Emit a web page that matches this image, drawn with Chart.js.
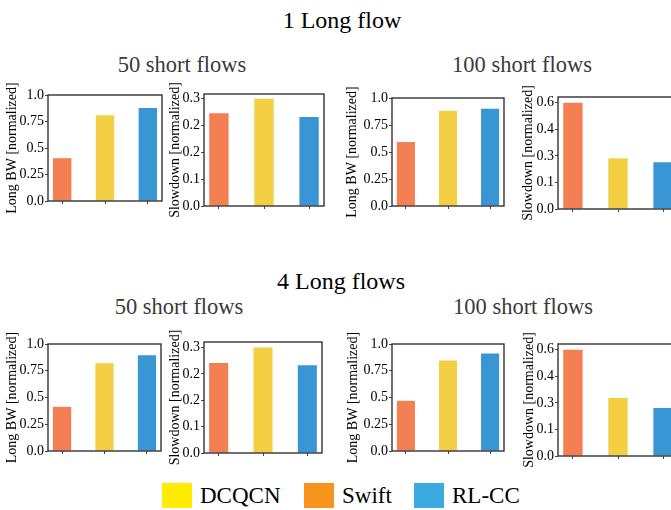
<!DOCTYPE html>
<html>
<head>
<meta charset="utf-8">
<script src="https://cdn.jsdelivr.net/npm/chart.js@4.4.0/dist/chart.umd.min.js"></script>
<style>
  html, body { margin:0; padding:0; background:#fff; }
  body { width:671px; height:510px; overflow:hidden; position:relative; font-family:'Liberation Serif', serif; }
  canvas { position:absolute; }
  .t { position:absolute; line-height:1; white-space:nowrap; transform:translateX(-50%); color:#000; font-family:'Liberation Serif', serif; }
  .sub { color:#3a3a3a; }
  .sw { position:absolute; }
  .lt { position:absolute; line-height:1; font-size:23px; white-space:nowrap; font-family:'Liberation Serif', serif; }
</style>
</head>
<body>
<div class="t" style="left:342px; top:8px; font-size:24px;">1 Long flow</div>
<div class="t sub" style="left:182px; top:54px; font-size:22.5px;">50 short flows</div>
<div class="t sub" style="left:522px; top:54px; font-size:22.5px;">100 short flows</div>
<div class="t" style="left:341px; top:269px; font-size:24px;">4 Long flows</div>
<div class="t sub" style="left:179px; top:296px; font-size:22.5px;">50 short flows</div>
<div class="t sub" style="left:523px; top:296px; font-size:22.5px;">100 short flows</div>

<div id="legend"></div>

<script>
// ---- data ----
const categories = ['Swift', 'DCQCN', 'RL-CC'];
const barColors = ['#F47F52', '#F4CE43', '#3A95D4'];

const bw1Long50  = [0.404, 0.810, 0.877];
const sd1Long50  = [0.259, 0.300, 0.249];
const bw1Long100 = [0.593, 0.882, 0.900];
const sd1Long100 = [0.598, 0.285, 0.263];
const bw4Long50  = [0.413, 0.820, 0.896];
const sd4Long50  = [0.256, 0.300, 0.250];
const bw4Long100 = [0.469, 0.846, 0.912];
const sd4Long100 = [0.598, 0.326, 0.270];

const bwTickValues   = [0, 0.25, 0.5, 0.75, 1.0];
const bwTickLabels   = ['0.0', '0.25', '0.5', '0.75', '1.0'];
const sd50TickValues = [0, 0.075, 0.15, 0.225, 0.3];
const sd50TickLabels = ['0.0', '0.1', '0.2', '0.2', '0.3'];
const sd100TickValues = [0, 0.1495, 0.299, 0.4485, 0.598];
const sd100TickLabels = ['0.0', '0.1', '0.3', '0.4', '0.6'];

const legendNames  = ['DCQCN', 'Swift', 'RL-CC'];
const legendColors = ['#FFEC00', '#F7941E', '#3AAAE0'];

const bwTitle = 'Long BW [normalized]';
const sdTitle = 'Slowdown [normalized]';

// ---- layout (plot rectangles) ----
const panels = [
  { vals: bw1Long50,  tv: bwTickValues,   tl: bwTickLabels,   max: 1.0,   title: bwTitle, rect: [48, 95, 162, 201],  axisW: 44 },
  { vals: sd1Long50,  tv: sd50TickValues, tl: sd50TickLabels, max: 0.313, title: sdTitle, rect: [204, 94, 324, 206], axisW: 37 },
  { vals: bw1Long100, tv: bwTickValues,   tl: bwTickLabels,   max: 1.0,   title: bwTitle, rect: [392, 98, 504, 206], axisW: 48 },
  { vals: sd1Long100, tv: sd100TickValues,tl: sd100TickLabels,max: 0.63,  title: sdTitle, rect: [558, 97, 678, 209], axisW: 38 },
  { vals: bw4Long50,  tv: bwTickValues,   tl: bwTickLabels,   max: 1.0,   title: bwTitle, rect: [48, 344, 161, 451], axisW: 44 },
  { vals: sd4Long50,  tv: sd50TickValues, tl: sd50TickLabels, max: 0.316, title: sdTitle, rect: [204, 342, 322, 453],axisW: 37 },
  { vals: bw4Long100, tv: bwTickValues,   tl: bwTickLabels,   max: 1.0,   title: bwTitle, rect: [392, 344, 504, 451],axisW: 47 },
  { vals: sd4Long100, tv: sd100TickValues,tl: sd100TickLabels,max: 0.63,  title: sdTitle, rect: [558, 344, 678, 456],axisW: 37 }
];

const framePlugin = {
  id: 'frame',
  afterDatasetsDraw(chart) {
    const a = chart.chartArea, ctx = chart.ctx;
    ctx.save();
    ctx.strokeStyle = '#333';
    ctx.lineWidth = 1.4;
    ctx.strokeRect(a.left, a.top, a.right - a.left, a.bottom - a.top);
    ctx.restore();
  }
};

const padTop = 22, padRight = 3, xAxisH = 22;
const FONT = `'Liberation Serif', serif`;
Chart.defaults.font.family = FONT;

panels.forEach((p) => {
  const [L, T, R, B] = p.rect;
  const cv = document.createElement('canvas');
  const w = p.axisW + (R - L) + padRight;
  const h = padTop + (B - T) + xAxisH;
  cv.width = w; cv.height = h;
  cv.style.width = w + 'px'; cv.style.height = h + 'px';
  cv.style.left = (L - p.axisW) + 'px';
  cv.style.top = (T - padTop) + 'px';
  document.body.appendChild(cv);

  new Chart(cv, {
    type: 'bar',
    data: {
      datasets: [{
        data: p.vals.map((v, i) => ({ x: i, y: v })),
        backgroundColor: barColors,
        borderWidth: 0,
        barPercentage: 0.43,
        categoryPercentage: 1.0
      }]
    },
    options: {
      responsive: false,
      animation: false,
      devicePixelRatio: 1,
      layout: { padding: { left: 0, top: padTop, right: padRight, bottom: 0 } },
      plugins: { legend: { display: false }, tooltip: { enabled: false } },
      scales: {
        x: {
          type: 'linear',
          offset: false,
          min: -0.331, max: 2.331,
          afterBuildTicks: (s) => { s.ticks = categories.map((c, i) => ({ value: i })); },
          afterFit: (s) => { s.height = xAxisH; },
          ticks: { callback: () => '', padding: 0 },
          grid: { display: true, offset: false, drawOnChartArea: false, drawTicks: true, tickLength: 3, color: '#444', lineWidth: 1 },
          border: { display: false }
        },
        y: {
          min: 0, max: p.max,
          afterBuildTicks: (s) => { s.ticks = p.tv.map(v => ({ value: v })); },
          afterFit: (s) => { s.width = p.axisW; },
          ticks: {
            callback: (v, i) => p.tl[i],
            color: '#000',
            padding: 1,
            font: { family: FONT, size: 14 }
          },
          grid: { display: true, drawOnChartArea: false, drawTicks: true, tickLength: 3, color: '#444', lineWidth: 1 },
          border: { display: false },
          title: {
            display: true, text: p.title, color: '#000',
            padding: 0,
            font: { family: FONT, size: 14 }
          }
        }
      }
    },
    plugins: [framePlugin]
  });
});

// ---- legend ----
const legendSw = [162, 304, 414];
const legendTx = [200, 342, 452];
const lg = document.getElementById('legend');
legendNames.forEach((n, i) => {
  const s = document.createElement('div');
  s.className = 'sw';
  s.style.left = legendSw[i] + 'px';
  s.style.top = '483px';
  s.style.width = '30px';
  s.style.height = '25px';
  s.style.background = legendColors[i];
  lg.appendChild(s);
  const t = document.createElement('div');
  t.className = 'lt';
  t.style.left = legendTx[i] + 'px';
  t.style.top = '484px';
  t.textContent = n;
  lg.appendChild(t);
});
</script>
</body>
</html>
